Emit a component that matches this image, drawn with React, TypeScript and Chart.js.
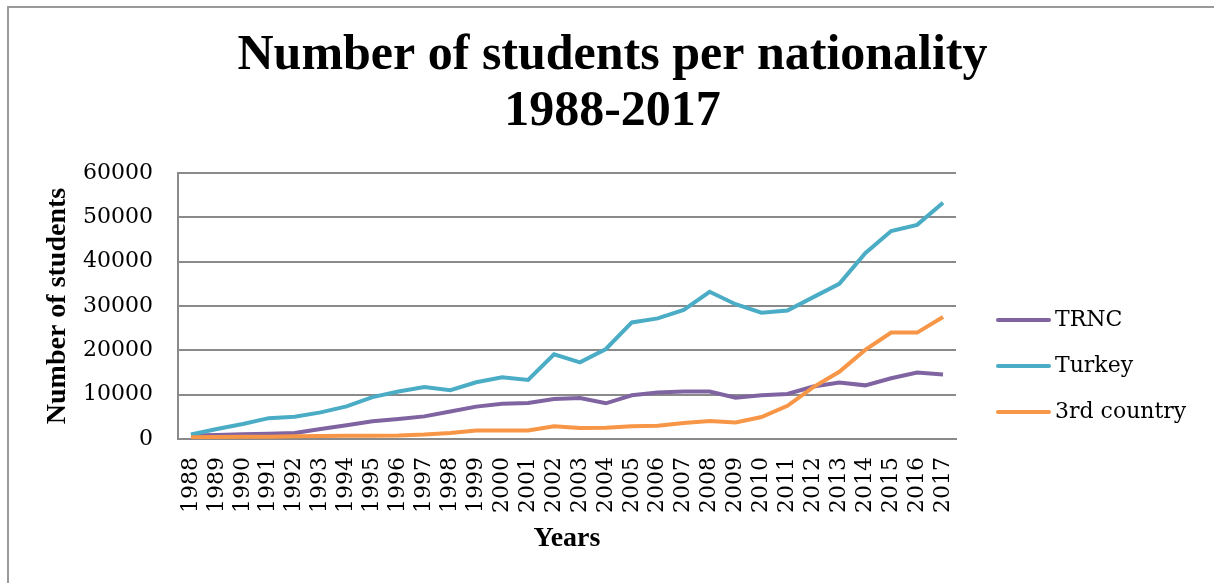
import React, { useEffect, useRef } from "react";
import { Chart, registerables } from "chart.js";

Chart.register(...registerables);

const years = [
  "1988", "1989", "1990", "1991", "1992", "1993", "1994", "1995", "1996", "1997",
  "1998", "1999", "2000", "2001", "2002", "2003", "2004", "2005", "2006", "2007",
  "2008", "2009", "2010", "2011", "2012", "2013", "2014", "2015", "2016", "2017",
];

const trnc = [
  800, 900, 1050, 1200, 1350, 2250, 3100, 4000, 4500, 5100,
  6200, 7300, 7950, 8100, 9000, 9250, 8050, 9850, 10500, 10700,
  10700, 9300, 9850, 10150, 11850, 12750, 12100, 13700, 15000, 14550,
];

const turkey = [
  1000, 2250, 3400, 4700, 5000, 6000, 7350, 9450, 10700, 11700,
  11000, 12800, 13900, 13300, 19100, 17300, 20300, 26300, 27200, 29100,
  33200, 30400, 28500, 29000, 32000, 35000, 41900, 46900, 48300, 53300,
];

const thirdCountry = [
  400, 450, 500, 500, 600, 650, 750, 750, 800, 1000,
  1350, 1900, 1900, 1900, 2850, 2500, 2550, 2850, 3000, 3600,
  4050, 3750, 4950, 7500, 11700, 15150, 20100, 24000, 24000, 27500,
];

const seriesNames = ["TRNC", "Turkey", "3rd country"];
const seriesColors = ["#8064A2", "#4BACC6", "#F79646"];

const titleLines = ["Number of students per nationality", "1988-2017"];
const yTitle = "Number of students";
const xTitle = "Years";
const yMin = 0;
const yMax = 60000;
const yStep = 10000;

const TICK_FONT = "DejaVu Serif";
const TITLE_FONT = "Liberation Serif";

const sideLegend = {
  id: "sideLegend",
  afterDraw(chart: any) {
    const { ctx, chartArea } = chart;
    ctx.save();
    ctx.font = `22px "${TICK_FONT}"`;
    ctx.textBaseline = "middle";
    ctx.textAlign = "left";
    chart.data.datasets.forEach((ds: any, i: number) => {
      const y = chartArea.top + 147 + i * 46;
      ctx.beginPath();
      ctx.strokeStyle = ds.borderColor;
      ctx.lineWidth = 4;
      ctx.lineCap = "round";
      ctx.moveTo(chartArea.right + 42, y);
      ctx.lineTo(chartArea.right + 93, y);
      ctx.stroke();
      ctx.fillStyle = "#000";
      ctx.fillText(ds.label, chartArea.right + 99, y);
    });
    ctx.restore();
  },
};

export default function App() {
  const canvasRef = useRef<HTMLCanvasElement | null>(null);

  useEffect(() => {
    if (!canvasRef.current) return;
    const values = [trnc, turkey, thirdCountry];
    const chart = new Chart(canvasRef.current, {
      type: "line",
      data: {
        labels: years,
        datasets: seriesNames.map((name, i) => ({
          label: name,
          data: values[i],
          borderColor: seriesColors[i],
          backgroundColor: seriesColors[i],
          borderWidth: 4,
          pointRadius: 0,
          pointHoverRadius: 0,
          tension: 0,
          fill: false,
          order: seriesNames.length - i,
        })),
      },
      options: {
        animation: false,
        responsive: true,
        maintainAspectRatio: false,
        layout: { padding: { left: 11, right: 0, top: 0, bottom: 0 } },
        plugins: {
          legend: { display: false },
          tooltip: { enabled: false },
          title: {
            display: true,
            text: titleLines,
            color: "#000",
            font: { family: TITLE_FONT, size: 50, weight: "bold", lineHeight: 1.12 },
            padding: { top: 28, bottom: 33 },
          },
        },
        scales: {
          x: {
            type: "category",
            offset: true,
            grid: { display: false, drawTicks: false },
            border: { display: true, color: "#8a8a8a", width: 2 },
            ticks: {
              autoSkip: false,
              minRotation: 90,
              maxRotation: 90,
              padding: 18,
              color: "#000",
              font: { family: TICK_FONT, size: 22 },
            },
            title: {
              display: true,
              text: xTitle,
              color: "#000",
              font: { family: TITLE_FONT, size: 28, weight: "bold", lineHeight: 1.2 },
              padding: { top: 0, bottom: 27 },
            },
            afterFit: (scale: any) => {
              scale.height = 144;
            },
          },
          y: {
            type: "linear",
            position: "left",
            min: yMin,
            max: yMax,
            grid: { color: "#8a8a8a", lineWidth: 2, drawTicks: false },
            border: { display: true, color: "#8a8a8a", width: 2 },
            ticks: {
              stepSize: yStep,
              padding: 25,
              color: "#000",
              font: { family: TICK_FONT, size: 22 },
              callback: (v: any) => String(v),
            },
            title: {
              display: true,
              text: yTitle,
              color: "#000",
              font: { family: TITLE_FONT, size: 28, weight: "bold", lineHeight: 1.2 },
              padding: { top: 30, bottom: 0 },
            },
            afterFit: (scale: any) => {
              scale.width = 167;
            },
          },
          legendSpace: {
            type: "linear",
            position: "right",
            display: true,
            grid: { display: false, drawTicks: false },
            border: { display: false },
            ticks: { display: false },
            afterFit: (scale: any) => {
              scale.width = 258;
            },
          },
        },
      },
      plugins: [sideLegend],
    } as any);
    return () => chart.destroy();
  }, []);

  return (
    <div
      style={{
        position: "fixed",
        left: 0,
        top: 0,
        width: 1214,
        height: 583,
        overflow: "hidden",
        background: "#fff",
      }}
    >
      <div
        style={{
          position: "absolute",
          left: 7,
          top: 6,
          width: 1300,
          height: 700,
          borderLeft: "2px solid #9a9a9a",
          borderTop: "2px solid #9a9a9a",
        }}
      />
      <div style={{ position: "absolute", left: 0, top: 0, width: 1214, height: 583 }}>
        <canvas ref={canvasRef} />
      </div>
    </div>
  );
}
